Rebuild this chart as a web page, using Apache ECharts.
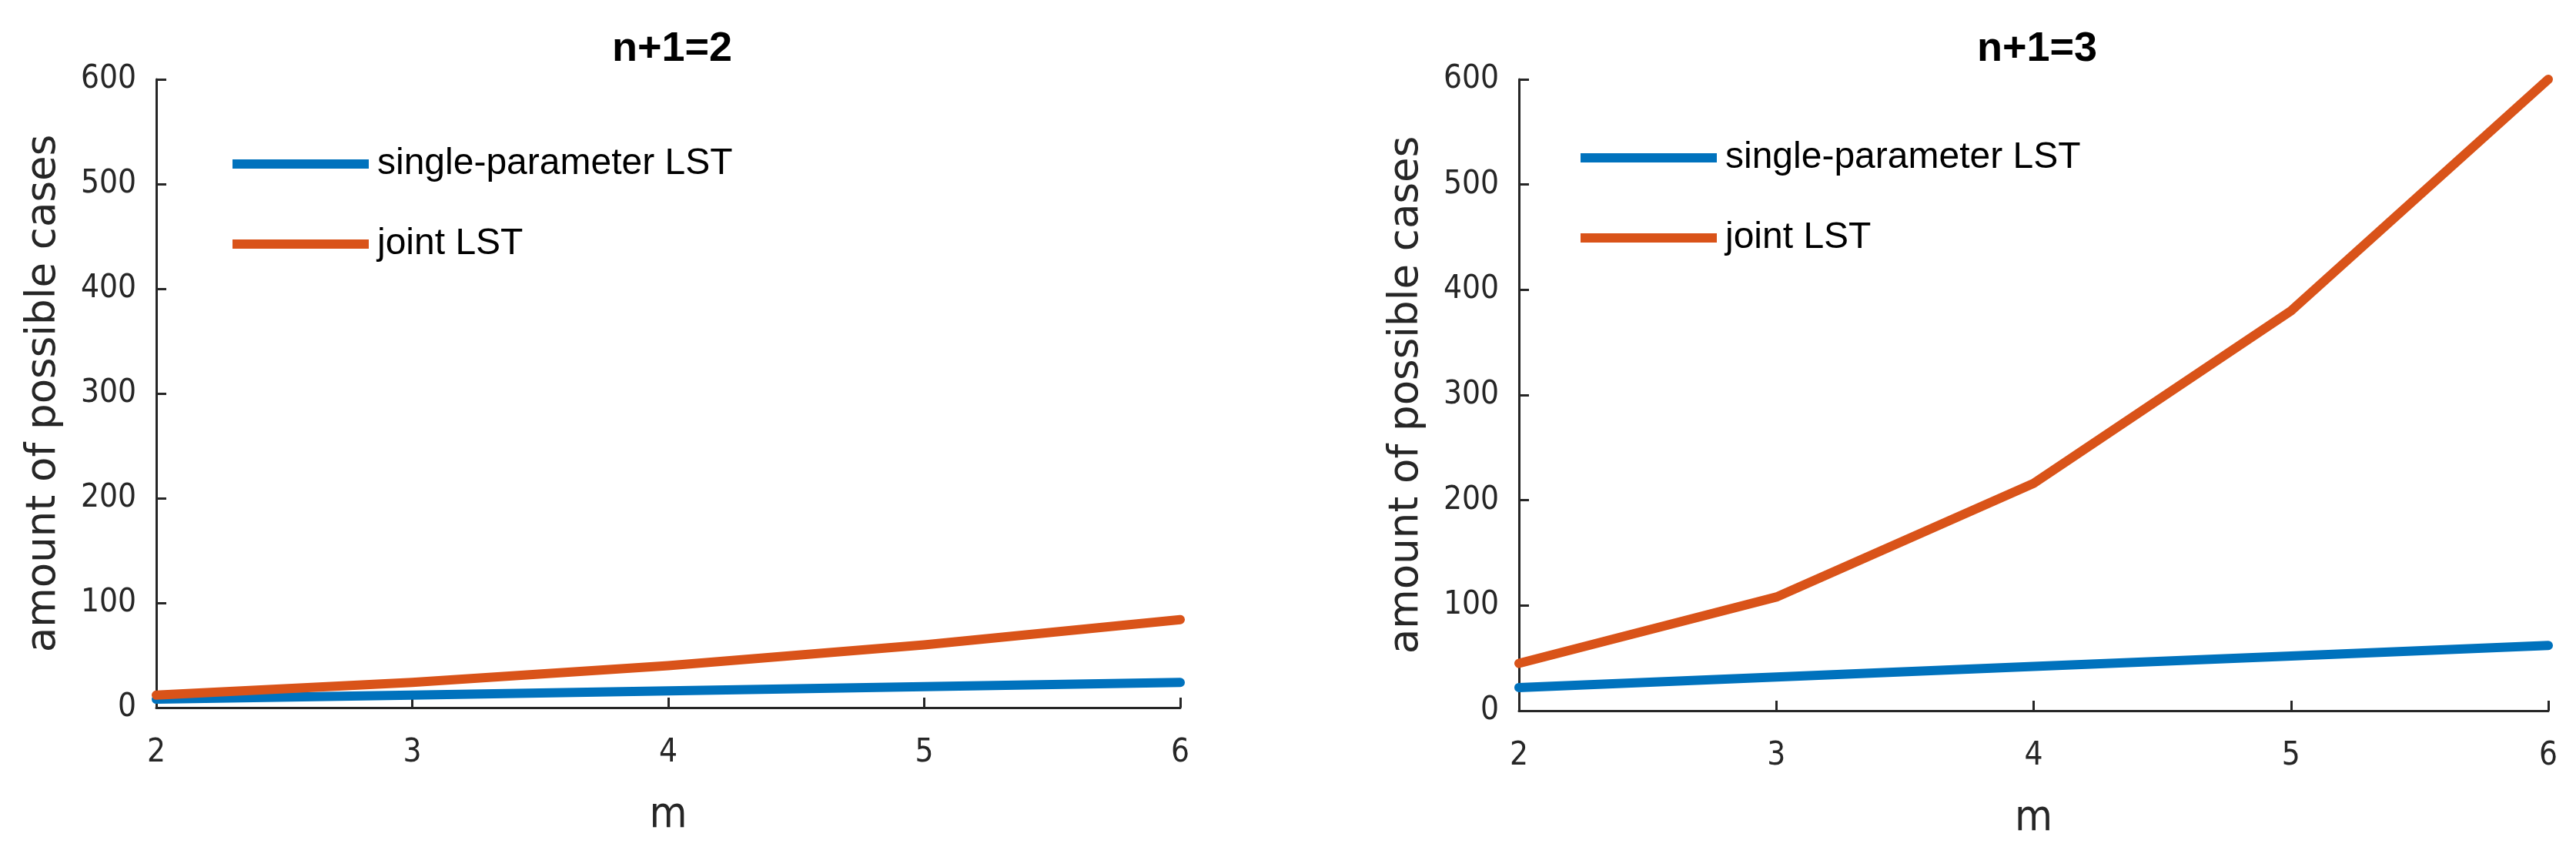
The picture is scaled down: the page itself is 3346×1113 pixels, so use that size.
<!DOCTYPE html>
<html>
<head>
<meta charset="utf-8">
<script src="https://cdn.jsdelivr.net/npm/echarts@6/dist/echarts.min.js"></script>
<style>
html,body{margin:0;padding:0;background:#fff;}
#chart{width:3346px;height:1113px;}
</style>
</head>
<body>
<div id="chart"></div>
<script>
// ---- data ----
const mValues = [2, 3, 4, 5, 6];
const singleLST_n2 = [8, 12, 16, 20, 24];
const jointLST_n2 = [12, 24, 40, 60, 84];
const singleLST_n3 = [22, 32, 42, 52, 62];
const jointLST_n3 = [45, 108, 216, 380, 600];
const panelTitles = ['n+1=2', 'n+1=3'];
const seriesNames = ['single-parameter LST', 'joint LST'];
const xName = 'm';
const yName = 'amount of possible cases';

const BLUE = '#0072BD', ORANGE = '#D95319', AX = '#262626';
const NARROW = "'Liberation Sans Narrow', 'Arial Narrow', 'DejaVu Sans Condensed', sans-serif";

function pairs(ys) { return mValues.map((m, i) => [m, ys[i]]); }

const grids = [
  { left: 203, top: 103, width: 1330, height: 816 },
  { left: 1973, top: 103, width: 1337, height: 820 }
];

function xAxis(gi) {
  return {
    gridIndex: gi, type: 'value', min: 2, max: 6, interval: 1,
    name: xName, nameLocation: 'middle', nameGap: 112,
    nameTextStyle: { fontFamily: NARROW, fontSize: 56, color: AX },
    axisLine: { show: true, onZero: false, lineStyle: { color: AX, width: 3 } },
    axisTick: { show: true, inside: true, length: 13, lineStyle: { color: AX, width: 3 } },
    axisLabel: { fontFamily: NARROW, fontSize: 42, color: AX, margin: 38 },
    splitLine: { show: false }
  };
}
function yAxis(gi) {
  return {
    gridIndex: gi, type: 'value', min: 0, max: 600, interval: 100,
    name: yName, nameLocation: 'middle', nameRotate: 90, nameGap: 119,
    nameTextStyle: { fontFamily: "'DejaVu Sans', sans-serif", fontSize: 53, color: AX },
    axisLine: { show: true, onZero: false, lineStyle: { color: AX, width: 3 } },
    axisTick: { show: true, inside: true, length: 13, lineStyle: { color: AX, width: 3 } },
    axisLabel: { fontFamily: NARROW, fontSize: 42, color: AX, margin: 26 },
    splitLine: { show: false }
  };
}
function line(name, gi, ys, color) {
  return {
    name, type: 'line', xAxisIndex: gi, yAxisIndex: gi, data: pairs(ys),
    showSymbol: false, symbol: 'none', clip: false, smooth: false,
    lineStyle: { color, width: 12, cap: 'round', join: 'round' },
    itemStyle: { color }, z: gi
  };
}
function legend(left, top, w) {
  return {
    orient: 'vertical', left, top, itemWidth: w, itemHeight: 12, itemGap: 56,
    icon: 'rect', data: seriesNames,
    textStyle: { fontFamily: "'Liberation Sans', Arial, sans-serif", fontSize: 48, color: '#000', padding: [0, 0, 0, 6] },
    selectedMode: false
  };
}

const chart = echarts.init(document.getElementById('chart'), null, { renderer: 'canvas' });
chart.setOption({
  backgroundColor: '#fff',
  animation: false,
  title: [
    { text: panelTitles[0], left: 868, top: 32, textAlign: 'center',
      textStyle: { fontFamily: "'Liberation Sans', Arial, sans-serif", fontWeight: 'bold', fontSize: 54, color: '#000' } },
    { text: panelTitles[1], left: 2641, top: 32, textAlign: 'center',
      textStyle: { fontFamily: "'Liberation Sans', Arial, sans-serif", fontWeight: 'bold', fontSize: 54, color: '#000' } }
  ],
  legend: [legend(297, 184, 177), legend(2048, 176, 177)],
  grid: grids,
  xAxis: [xAxis(0), xAxis(1)],
  yAxis: [yAxis(0), yAxis(1)],
  series: [
    line(seriesNames[0], 0, singleLST_n2, BLUE),
    line(seriesNames[1], 0, jointLST_n2, ORANGE),
    line(seriesNames[0], 1, singleLST_n3, BLUE),
    line(seriesNames[1], 1, jointLST_n3, ORANGE)
  ]
});
</script>
</body>
</html>
